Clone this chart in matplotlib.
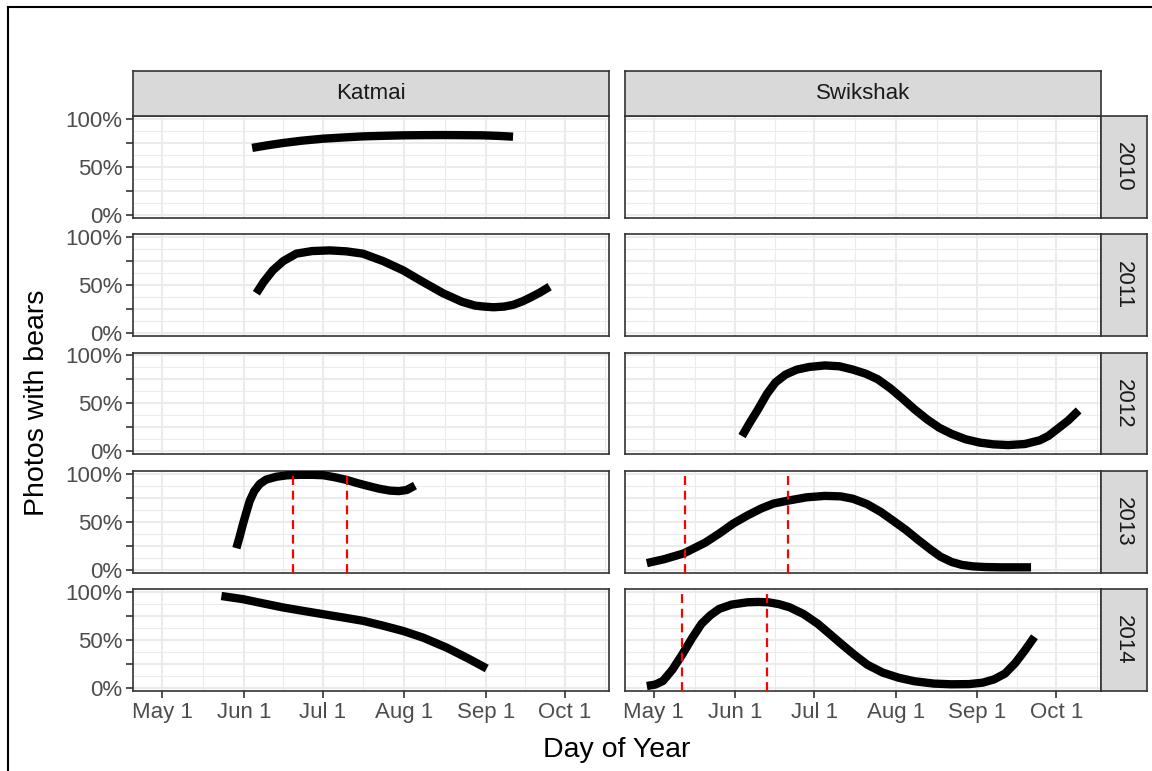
import matplotlib.pyplot as plt
from matplotlib.lines import Line2D

plt.rcParams['font.family'] = ['Liberation Sans', 'DejaVu Sans']

# 站點與年份
sites = ['Katmai', 'Swikshak']
years = [2010, 2011, 2012, 2013, 2014]

# x 軸：一年中的第幾天
month_days = [121, 152, 182, 213, 244, 274]
month_labels = ['May 1', 'Jun 1', 'Jul 1', 'Aug 1', 'Sep 1', 'Oct 1']
pct_ticks = [0, 0.25, 0.5, 0.75, 1.0]
pct_labels = ['0%', '', '50%', '', '100%']

# Katmai 各年平滑曲線（日, 有熊照片比例）
katmai_2010_day = [155.2, 161.0, 166.9, 174.0, 182.1, 190.0, 197.3, 205.0, 212.5, 220.0,
                   227.8, 235.0, 243.0, 249.0, 254.4]
katmai_2010_pct = [0.697, 0.724, 0.748, 0.772, 0.793, 0.806, 0.817, 0.823, 0.828, 0.830,
                   0.831, 0.830, 0.828, 0.822, 0.814]

katmai_2011_day = [156.8, 159.5, 163.1, 167.0, 172.0, 178.0, 184.7, 191.0, 197.3, 205.0,
                   212.5, 220.0, 227.8, 235.0, 240.0, 243.0, 247.0, 251.0, 254.4, 258.0,
                   261.0, 264.5, 268.3]
katmai_2011_pct = [0.414, 0.53, 0.655, 0.75, 0.828, 0.855, 0.862, 0.852, 0.828, 0.75,
                   0.655, 0.535, 0.414, 0.325, 0.285, 0.276, 0.268, 0.275, 0.293, 0.33,
                   0.37, 0.42, 0.483]

katmai_2013_day = [149.2, 150.5, 151.7, 153.0, 154.3, 156.0, 158.1, 160.5, 164.4, 168.5,
                   173.3, 178.0, 182.2, 186.5, 191.1, 195.0, 198.7, 203.5, 207.6, 211.0,
                   214.0, 217.1]
katmai_2013_pct = [0.224, 0.35, 0.476, 0.60, 0.72, 0.82, 0.895, 0.94, 0.97, 0.985,
                   0.99, 0.99, 0.986, 0.965, 0.937, 0.905, 0.878, 0.845, 0.825, 0.82,
                   0.832, 0.878]
katmai_2013_vlines = [170.8, 191.1]

katmai_2014_day = [143.5, 151.7, 159.0, 167.0, 174.5, 182.2, 190.0, 197.5, 205.0, 212.7,
                   220.3, 229.2, 236.8, 244.4]
katmai_2014_pct = [0.96, 0.927, 0.885, 0.84, 0.805, 0.77, 0.735, 0.70, 0.65, 0.594,
                   0.524, 0.42, 0.315, 0.203]

# Swikshak 各年平滑曲線
swikshak_2012_day = [154.5, 157.5, 160.5, 164.0, 167.2, 171.0, 175.3, 180.0, 186.0, 191.5,
                     196.7, 201.5, 206.1, 211.0, 215.5, 220.0, 224.9, 229.5, 234.2, 239.5,
                     244.9, 250.0, 255.7, 262.0, 267.7, 271.0, 274.4, 278.5, 282.5]
swikshak_2012_pct = [0.158, 0.30, 0.433, 0.60, 0.718, 0.80, 0.852, 0.88, 0.896, 0.887,
                     0.852, 0.81, 0.752, 0.655, 0.55, 0.44, 0.332, 0.245, 0.181, 0.125,
                     0.09, 0.072, 0.064, 0.075, 0.114, 0.16, 0.232, 0.32, 0.426]

swikshak_2013_day = [118.3, 125.0, 132.4, 136.0, 140.4, 146.0, 151.1, 156.5, 161.9, 166.5,
                     171.9, 179.0, 186.0, 192.0, 196.7, 202.0, 207.4, 212.0, 216.8, 221.5,
                     226.2, 230.0, 234.2, 238.0, 242.3, 247.0, 253.0, 264.4]
swikshak_2013_pct = [0.068, 0.11, 0.17, 0.22, 0.28, 0.38, 0.48, 0.565, 0.64, 0.69,
                     0.72, 0.755, 0.77, 0.765, 0.74, 0.685, 0.60, 0.51, 0.415, 0.31,
                     0.21, 0.135, 0.08, 0.05, 0.034, 0.027, 0.024, 0.024]
swikshak_2013_vlines = [132.8, 171.9]

swikshak_2014_day = [118.3, 121.5, 124.4, 128.0, 131.7, 135.5, 139.1, 142.5, 145.8, 150.5,
                     156.5, 160.5, 164.6, 168.5, 172.6, 178.0, 183.3, 188.0, 192.7, 197.5,
                     202.1, 208.0, 214.1, 220.0, 227.5, 234.0, 240.9, 246.0, 250.3, 254.5,
                     258.4, 262.0, 265.7]
swikshak_2014_pct = [0.02, 0.035, 0.072, 0.19, 0.346, 0.52, 0.67, 0.76, 0.825, 0.87,
                     0.894, 0.898, 0.894, 0.875, 0.842, 0.77, 0.67, 0.56, 0.449, 0.34,
                     0.243, 0.16, 0.106, 0.07, 0.045, 0.038, 0.04, 0.055, 0.089, 0.15,
                     0.26, 0.39, 0.534]
swikshak_2014_vlines = [131.7, 163.9]

curves = {
    ('Katmai', 2010): (katmai_2010_day, katmai_2010_pct, []),
    ('Katmai', 2011): (katmai_2011_day, katmai_2011_pct, []),
    ('Katmai', 2013): (katmai_2013_day, katmai_2013_pct, katmai_2013_vlines),
    ('Katmai', 2014): (katmai_2014_day, katmai_2014_pct, []),
    ('Swikshak', 2012): (swikshak_2012_day, swikshak_2012_pct, []),
    ('Swikshak', 2013): (swikshak_2013_day, swikshak_2013_pct, swikshak_2013_vlines),
    ('Swikshak', 2014): (swikshak_2014_day, swikshak_2014_pct, swikshak_2014_vlines),
}

W, H = 1152, 771
fig = plt.figure(figsize=(W / 100, H / 100), dpi=100)


def box(x0, y0, x1, y1):
    # 像素座標 -> figure 座標
    return [x0 / W, 1 - y1 / H, (x1 - x0) / W, (y1 - y0) / H]


col_left = [133.3, 625.0]
col_w = 476.0
row_top = [116.0, 234.3, 352.6, 471.0, 589.3]
row_h = 101.5

minor_days = [(a + b) / 2 for a, b in zip(month_days[:-1], month_days[1:])] + [289.5]
minor_pct = [0.125, 0.375, 0.625, 0.875]

for r, year in enumerate(years):
    for c, site in enumerate(sites):
        x0 = col_left[c]
        y0 = row_top[r]
        ax = fig.add_axes(box(x0, y0, x0 + col_w, y0 + row_h))
        ax.set_xlim(110, 291)
        ax.set_ylim(-0.03, 1.03)
        ax.set_xticks(month_days)
        ax.set_xticklabels(month_labels)
        ax.set_xticks(minor_days, minor=True)
        ax.set_yticks(pct_ticks)
        ax.set_yticklabels(pct_labels)
        ax.set_yticks(minor_pct, minor=True)
        ax.grid(which='major', color='#EBEBEB', lw=1.5)
        ax.grid(which='minor', color='#EBEBEB', lw=0.8)
        ax.set_axisbelow(True)
        ax.tick_params(which='minor', length=0)
        ax.tick_params(which='major', length=5, width=1.2, color='#333333',
                       labelsize=16, labelcolor='#4D4D4D')
        ax.tick_params(axis='y', pad=3)
        ax.tick_params(axis='x', pad=3)
        if c > 0:
            ax.tick_params(axis='y', length=0, labelleft=False)
        if r < len(years) - 1:
            ax.tick_params(axis='x', length=0, labelbottom=False)
        for sp in ax.spines.values():
            sp.set_color('#333333')
            sp.set_linewidth(1.2)

        if (site, year) in curves:
            d, p, vl = curves[(site, year)]
            ax.plot(d, p, color='black', lw=6, solid_capstyle='butt',
                    solid_joinstyle='round', zorder=3)
            for v in vl:
                ax.axvline(v, color='#FF0000', lw=1.6, ls=(0, (4, 2.6)), zorder=4)

# 上方站點標籤
for c, site in enumerate(sites):
    s = fig.add_axes(box(col_left[c], 70.5, col_left[c] + col_w, 116))
    s.set_facecolor('#D9D9D9')
    s.set_xticks([])
    s.set_yticks([])
    for sp in s.spines.values():
        sp.set_color('#333333')
        sp.set_linewidth(1.2)
    s.text(0.5, 0.5, site, ha='center', va='center', fontsize=16, color='#1A1A1A',
           transform=s.transAxes)

# 右側年份標籤
for r, year in enumerate(years):
    s = fig.add_axes(box(1101, row_top[r], 1146.5, row_top[r] + row_h))
    s.set_facecolor('#D9D9D9')
    s.set_xticks([])
    s.set_yticks([])
    for sp in s.spines.values():
        sp.set_color('#333333')
        sp.set_linewidth(1.2)
    s.text(0.5, 0.5, str(year), ha='center', va='center', rotation=-90, fontsize=16,
           color='#1A1A1A', transform=s.transAxes)

fig.text(617 / W, 1 - 757 / H, 'Day of Year', ha='center', va='baseline', fontsize=20.5)
fig.text(37 / W, 1 - 403 / H, 'Photos with bears', ha='center', va='center',
         rotation=90, fontsize=20.5)

# 外框
fig.add_artist(Line2D([8.3 / W, 8.3 / W], [0, 1 - 6.7 / H], transform=fig.transFigure,
                      color='black', lw=1.5))
fig.add_artist(Line2D([8.3 / W, 1], [1 - 6.7 / H, 1 - 6.7 / H], transform=fig.transFigure,
                      color='black', lw=1.5))

fig.savefig('out.png', dpi=100)
